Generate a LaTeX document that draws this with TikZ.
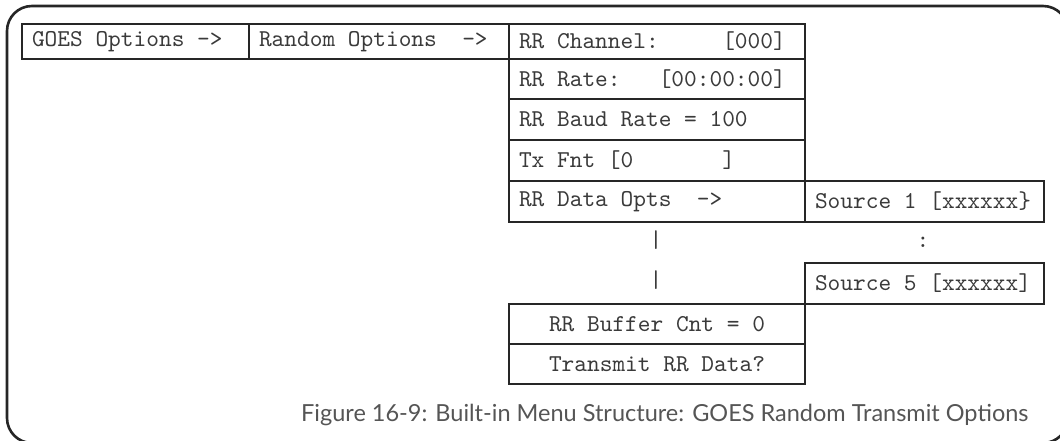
\documentclass[tikz,border=0pt]{standalone}
\usepackage{fontspec}
\newfontfamily\capfont{Lato}
\newfontfamily\monof{lmmono10-regular.otf}
\newcommand\ms{\hphantom{x}}
\definecolor{linec}{HTML}{262626}
\definecolor{textc}{HTML}{3A3A3A}
\definecolor{capc}{HTML}{555555}
\begin{document}
\begin{tikzpicture}[x=1pt,y=-1pt,
  menubox/.style={draw=linec, line width=2pt, rectangle, anchor=north west,
    inner xsep=10pt, inner ysep=0pt, text=textc,
    font=\monof\fontsize{24.2}{26}\selectfont, align=left},
  centerbox/.style={menubox, align=center},
  marktext/.style={text=textc, font=\monof\fontsize{24.2}{26}\selectfont, inner sep=0pt}]
\useasboundingbox (0,0) rectangle (1060,441);
\draw[linec, line width=2.6pt, rounded corners=25pt] (7,6) rectangle (1068,443);
% row 1
\node[menubox, minimum width=227pt, minimum height=35pt, text width=207pt] (goes) at (21,23) {GOES\ms Options\ms->};
\node[menubox, minimum width=260pt, minimum height=35pt, text width=240pt] (rand) at (248,23) {Random\ms Options\ms\ms->};
\node[menubox, minimum width=296pt, minimum height=35pt, text width=276pt] (chan) at (508,23) {RR\ms Channel:\ms\ms\ms\ms\ms[000]};
\node[menubox, minimum width=296pt, minimum height=40pt, text width=276pt] (rate) at (508,58) {RR\ms Rate:\ms\ms\ms[00:00:00]};
\node[menubox, minimum width=296pt, minimum height=41pt, text width=276pt] (baud) at (508,98) {RR\ms Baud\ms Rate\ms=\ms100};
\node[menubox, minimum width=296pt, minimum height=41pt, text width=276pt] (txf) at (508,139) {Tx\ms Fnt\ms[0\ms\ms\ms\ms\ms\ms\ms]};
\node[menubox, minimum width=296pt, minimum height=41pt, text width=276pt] (dopt) at (508,180) {RR\ms Data\ms Opts\ms\ms->};
\node[menubox, minimum width=239pt, minimum height=41pt, text width=219pt] (src1) at (804,180) {Source\ms 1\ms[xxxxxx\}};
\node[marktext] (bar1) at (656,240) {|};
\node[marktext] (bar2) at (656,280) {|};
\node[marktext] (dots) at (923,242) {:};
\node[menubox, minimum width=239pt, minimum height=41pt, text width=219pt] (src5) at (804,262) {Source\ms 5\ms[xxxxxx]};
\node[centerbox, minimum width=296pt, minimum height=40pt, text width=276pt] (buf) at (508,303) {RR\ms Buffer\ms Cnt\ms=\ms0};
\node[centerbox, minimum width=296pt, minimum height=40pt, text width=276pt] (trans) at (508,343) {Transmit\ms RR\ms Data?};
\node[anchor=base west, inner sep=0pt, text=capc, font=\capfont\fontsize{23.5}{26}\selectfont] (cap) at (301,421) {Figure 16-9: Built-in Menu Structure: GOES Random Transmit Options};
\end{tikzpicture}
\end{document}
